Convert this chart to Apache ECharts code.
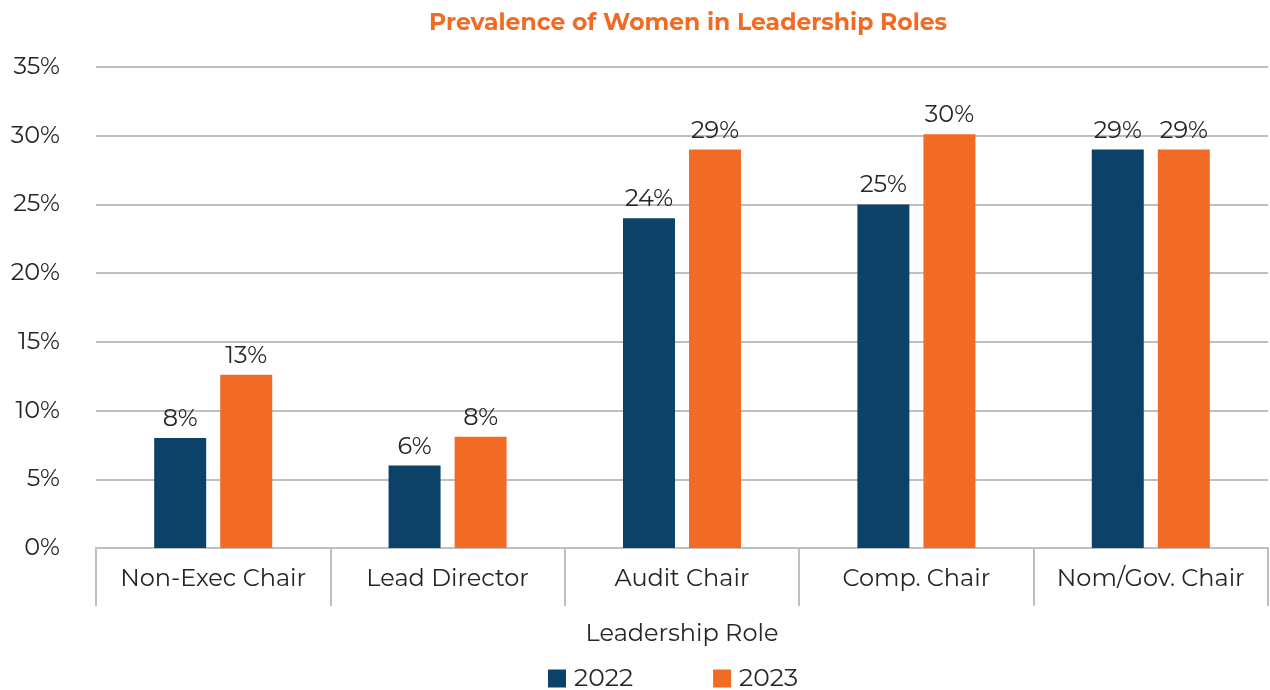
<!DOCTYPE html>
<html><head><meta charset="utf-8">
<script src="https://cdn.jsdelivr.net/npm/echarts@6/dist/echarts.min.js"></script>
<style>html,body{margin:0;padding:0;background:#fff}#c{width:1270px;height:690px}</style>
</head><body><div id="c"></div>
<script>
const categories = ["Non-Exec Chair","Lead Director","Audit Chair","Comp. Chair","Nom/Gov. Chair"];
const seriesNames = ["2022","2023"];
const values2022 = [8.0, 6.0, 24.0, 25.0, 29.0];
const values2023 = [12.6, 8.1, 29.0, 30.1, 29.0];
const yTicks = [0,5,10,15,20,25,30,35];

const font = "Montserrat, 'Noto Sans', Lato, sans-serif";
const chart = echarts.init(document.getElementById('c'));
const lbl = {show:true, position:'top', distance:7, color:'#262626', fontSize:24, fontFamily:font,
  formatter: p => Math.round(p.value) + '%'};
chart.setOption({
  animation:false,
  title:{text:'Prevalence of Women in Leadership Roles', left:424, top:6,
    textStyle:{color:'#f26b24', fontSize:23.5, fontWeight:'bold', fontFamily:font}},
  legend:{top:666, left:548, itemWidth:18, itemHeight:18, itemGap:80, padding:0,
    textStyle:{color:'#262626', fontSize:25, fontFamily:font, padding:[0,0,0,3]}, icon:'rect', data:seriesNames},
  grid:{left:96, right:2, top:67, bottom:142, containLabel:false},
  xAxis:{type:'category', data:categories, name:'Leadership Role', nameLocation:'middle', nameGap:74,
    nameTextStyle:{color:'#262626', fontSize:24, fontFamily:font},
    axisLine:{lineStyle:{color:'#bfbfbf', width:2}},
    axisTick:{show:true, length:58, alignWithLabel:false, lineStyle:{color:'#bfbfbf', width:2}},
    axisLabel:{color:'#262626', fontSize:24, fontFamily:font, margin:19, interval:0}},
  yAxis:{type:'value', min:0, max:35, interval:5,
    axisLine:{show:false}, axisTick:{show:false},
    splitLine:{lineStyle:{color:'#bfbfbf', width:2}},
    axisLabel:{color:'#262626', fontSize:24, fontFamily:font, margin:36, formatter: v => v + '%'}},
  series:[
    {name:seriesNames[0], type:'bar', data:values2022, barWidth:52, barGap:'27%',
      itemStyle:{color:'#0c4268'}, label:lbl},
    {name:seriesNames[1], type:'bar', data:values2023, barWidth:52,
      itemStyle:{color:'#f26b24'}, label:lbl}
  ]
});
</script></body></html>
